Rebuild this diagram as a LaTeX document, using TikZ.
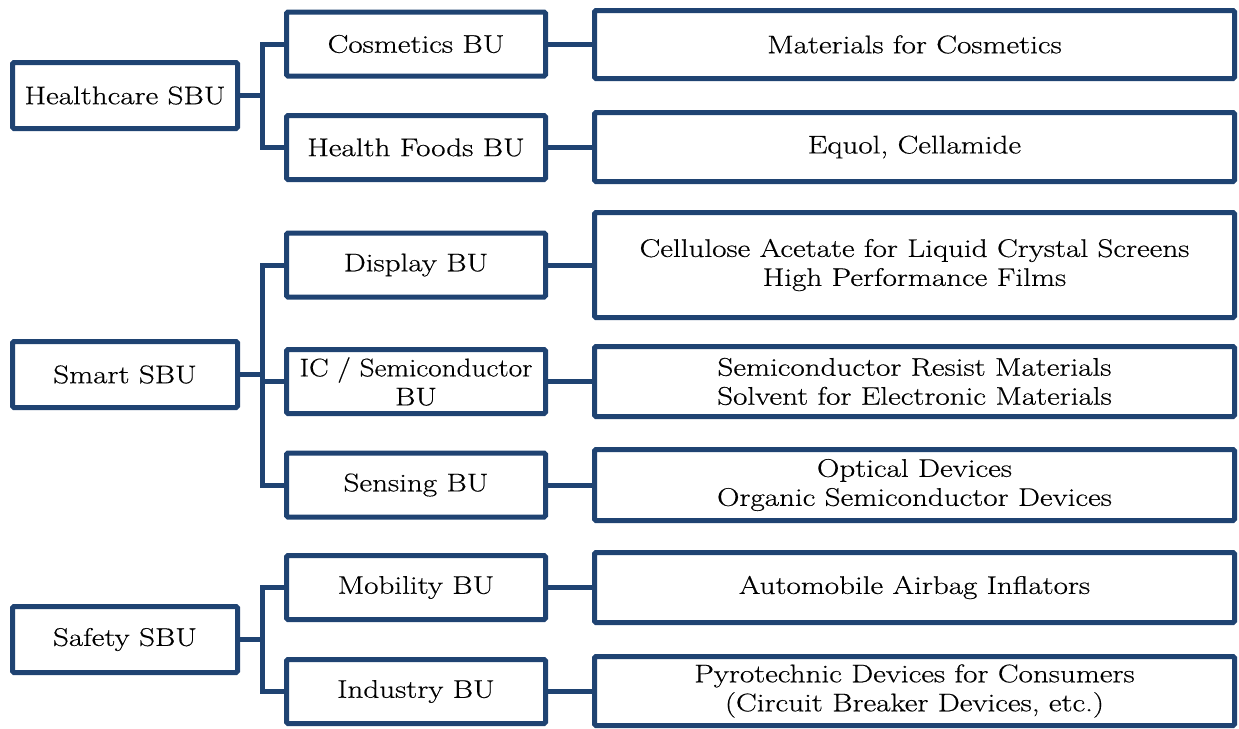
\documentclass[tikz,border=0pt]{standalone}
\usepackage{fontspec}
\usepackage{graphicx}
\setmainfont{Latin Modern Roman}[FakeStretch=1.22,FakeBold=0.5]
\definecolor{navy}{RGB}{31,67,114}
\tikzset{
  box/.style={draw=navy, line width=5pt, rounded corners=1.5pt, fill=white, inner sep=0pt, align=center,
    font=\fontsize{25.5}{29}\selectfont, text=black},
  sbu/.style={box, minimum width=225pt, minimum height=66pt},
  bu/.style={box, minimum width=259pt, minimum height=64pt},
  prod/.style={box, minimum width=640pt, minimum height=70pt},
  conn/.style={draw=navy, line width=5pt, line join=miter}
}
\begin{document}
\begin{tikzpicture}[x=1pt,y=-1pt]
\useasboundingbox (0,0) rectangle (1239,728);
% SBUs
\node[sbu] (hc) at (125,95.5) {Healthcare SBU};
\node[sbu] (sm) at (125,374.5) {Smart SBU};
\node[sbu] (sf) at (125,639.5) {Safety SBU};
% BUs
\node[bu] (cos) at (416,44) {Cosmetics BU};
\node[bu] (hf) at (416,147.5) {Health Foods BU};
\node[bu] (dis) at (416,265) {Display BU};
\node[bu] (ic) at (416,381.5) {\scalebox{0.94}[1]{IC / Semiconductor}\\BU};
\node[bu] (sen) at (416,485) {Sensing BU};
\node[bu] (mob) at (416,587.5) {Mobility BU};
\node[bu] (ind) at (416,691.5) {Industry BU};
% Products
\node[prod, minimum height=68pt] (p1) at (914.5,44.5) {Materials for Cosmetics};
\node[prod, minimum height=69pt] (p2) at (914.5,147) {Equol, Cellamide};
\node[prod, minimum height=105pt] (p3) at (914.5,265) {Cellulose Acetate for Liquid Crystal Screens\\High Performance Films};
\node[prod] (p4) at (914.5,381.5) {Semiconductor Resist Materials\\Solvent for Electronic Materials};
\node[prod, minimum height=71pt] (p5) at (914.5,485) {Optical Devices\\Organic Semiconductor Devices};
\node[prod] (p6) at (914.5,587.5) {Automobile Airbag Inflators};
\node[prod, minimum height=69pt] (p7) at (914.5,691) {Pyrotechnic Devices for Consumers\\(Circuit Breaker Devices, etc.)};
% SBU -> BU connectors
\foreach \c in {cos,hf} \draw[conn] (\c.west) -- ++(-22,0) |- (hc.east);
\foreach \c in {dis,ic,sen} \draw[conn] (\c.west) -- ++(-22,0) |- (sm.east);
\foreach \c in {mob,ind} \draw[conn] (\c.west) -- ++(-22,0) |- (sf.east);
% BU -> product connectors
\draw[conn] (cos.east) -- (cos.east -| p1.west);
\draw[conn] (hf.east) -- (hf.east -| p2.west);
\draw[conn] (dis.east) -- (dis.east -| p3.west);
\draw[conn] (ic.east) -- (ic.east -| p4.west);
\draw[conn] (sen.east) -- (sen.east -| p5.west);
\draw[conn] (mob.east) -- (mob.east -| p6.west);
\draw[conn] (ind.east) -- (ind.east -| p7.west);
\end{tikzpicture}
\end{document}
